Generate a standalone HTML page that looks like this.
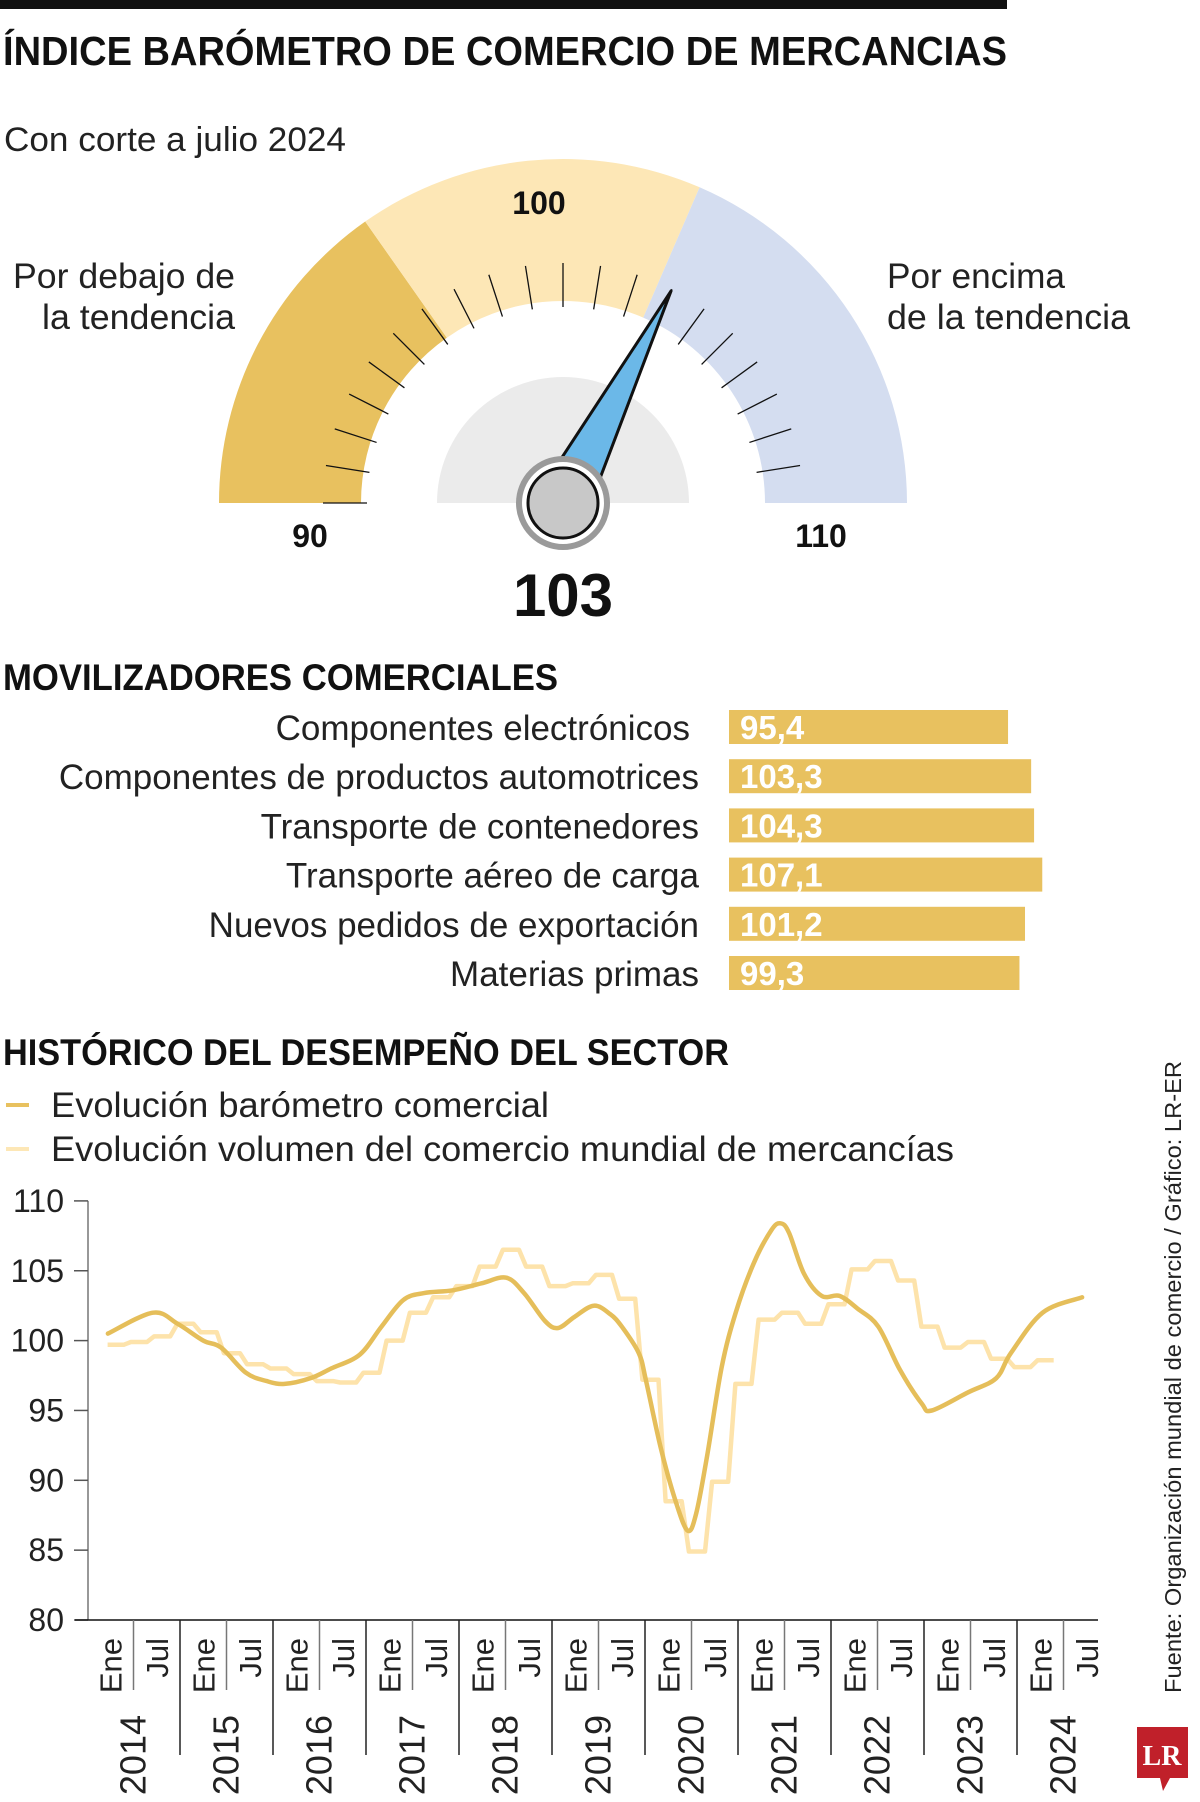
<!DOCTYPE html>
<html><head><meta charset="utf-8"><style>
body{margin:0;background:#fff}
svg{display:block}
.b{font-family:"Liberation Sans",sans-serif;font-weight:bold;fill:#111}
.l{font-family:"Liberation Sans",sans-serif;fill:#222}
</style></head><body>
<svg id="s" width="1200" height="1802" viewBox="0 0 1200 1802" xmlns="http://www.w3.org/2000/svg">
<rect x="0" y="0" width="1007" height="9" fill="#111"/>
<text class="b" x="3" y="65" font-size="41" textLength="1004" lengthAdjust="spacingAndGlyphs">ÍNDICE BARÓMETRO DE COMERCIO DE MERCANCIAS</text>
<text class="l" x="4" y="151" font-size="34" textLength="342" lengthAdjust="spacingAndGlyphs">Con corte a julio 2024</text>
<g id="gauge"></g>
<text class="l" x="235" y="288" font-size="35" text-anchor="end" textLength="222" lengthAdjust="spacingAndGlyphs">Por debajo de</text>
<text class="l" x="235" y="329" font-size="35" text-anchor="end" textLength="193" lengthAdjust="spacingAndGlyphs">la tendencia</text>
<text class="l" x="887" y="288" font-size="35" textLength="178" lengthAdjust="spacingAndGlyphs">Por encima</text>
<text class="l" x="887" y="329" font-size="35" textLength="243" lengthAdjust="spacingAndGlyphs">de la tendencia</text>
<text class="b" x="3" y="690" font-size="37" textLength="555" lengthAdjust="spacingAndGlyphs">MOVILIZADORES COMERCIALES</text>
<g id="bars"></g>
<text class="b" x="3" y="1065" font-size="37" textLength="726" lengthAdjust="spacingAndGlyphs">HISTÓRICO DEL DESEMPEÑO DEL SECTOR</text>
<rect x="6" y="1103" width="23" height="4" fill="#E8C15F"/>
<text class="l" x="51" y="1117" font-size="35" textLength="498" lengthAdjust="spacingAndGlyphs">Evolución barómetro comercial</text>
<rect x="6" y="1147" width="23" height="4" fill="#FDE7B6"/>
<text class="l" x="51" y="1161" font-size="35" textLength="903" lengthAdjust="spacingAndGlyphs">Evolución volumen del comercio mundial de mercancías</text>
<g id="chart"></g>
<text class="l" font-size="23" transform="translate(1181,1693) rotate(-90)" textLength="632" lengthAdjust="spacingAndGlyphs">Fuente: Organización mundial de comercio / Gráfico: LR-ER</text>
<g>
<path d="M1137 1727 H1188 V1778 H1170 L1163 1791 L1160 1778 H1137 Z" fill="#C0202A"/>
<text x="1162" y="1765" font-family="Liberation Serif,serif" font-weight="bold" font-size="28" fill="#fff" text-anchor="middle">LR</text>
</g>
</svg>
<script>
var NS='http://www.w3.org/2000/svg';
function mk(p,t,a){var e=document.createElementNS(NS,t);for(var k in a)e.setAttribute(k,a[k]);p.appendChild(e);return e;}

// ---- gauge data
var gaugeMin=90, gaugeMax=110;
var gaugeValue=103;
var zoneBreaks=[90,96.1,102.6,110];
var zoneNames=['below','neutral','above'];
var gaugeLabels=['90','100','110'];

// ---- bar data
var driverNames=['Componentes electrónicos','Componentes de productos automotrices','Transporte de contenedores','Transporte aéreo de carga','Nuevos pedidos de exportación','Materias primas'];
var driverValues=[95.4,103.3,104.3,107.1,101.2,99.3];
var driverText=['95,4','103,3','104,3','107,1','101,2','99,3'];

// ---- line chart data
var yTicks=[80,85,90,95,100,105,110];
var years=['2014','2015','2016','2017','2018','2019','2020','2021','2022','2023','2024'];
var halfLabels=['Ene','Jul'];
var baroMonths=[2.7,8.5,11.7,15,17.3,20.5,23.2,25.5,28.8,31.5,35.2,38,40.8,43.5,47.2,50.9,54.1,56.4,59.1,60.8,62.9,65.4,67.5,69,71.2,72.1,74,75.9,77.5,78.6,80,81.9,83.7,86,88.3,89.5,90.6,92.5,94.8,97.1,99.4,102.1,104.9,107.7,109,113.7,117.3,119.2,123.3,128.4];
var baroValues=[100.5,102.0,101.2,100.0,99.5,97.7,97.1,96.9,97.3,98.0,99.0,101.0,102.9,103.4,103.6,104.1,104.5,103.4,101.4,100.9,101.7,102.5,101.9,101.0,99.1,97.2,92.4,88.6,86.4,87.6,91.7,98.1,102.0,105.5,107.9,108.4,107.7,104.8,103.2,103.2,102.3,101.0,97.9,95.5,95.0,96.3,97.3,99.1,102.0,103.1];
var volQuarterValues=[99.7,99.9,100.3,101.2,100.6,99.1,98.3,98.0,97.6,97.1,97.0,97.7,100.0,102.0,103.1,103.9,105.3,106.5,105.3,103.9,104.1,104.7,103.0,97.2,88.5,84.9,89.9,96.9,101.5,102.0,101.2,102.6,105.1,105.7,104.3,101.0,99.5,99.9,98.7,98.1,98.6];

// ===== gauge
(function(){
  var g=document.getElementById('gauge');
  var cx=563, cy=503, R=344, r=202;
  function ang(v){return Math.PI*(1-(v-gaugeMin)/(gaugeMax-gaugeMin));}
  function pt(a,rad){return [cx+rad*Math.cos(a), cy-rad*Math.sin(a)];}
  var cols=['#E8C15F','#FDE7B6','#D4DDF0'];
  for(var i=0;i<3;i++){
    var a0=ang(zoneBreaks[i]), a1=ang(zoneBreaks[i+1]);
    var p0=pt(a0,R),p1=pt(a1,R),q1=pt(a1,r),q0=pt(a0,r);
    var e=mk(g,'path',{d:'M'+p0+' A'+R+' '+R+' 0 0 1 '+p1+' L'+q1+' A'+r+' '+r+' 0 0 0 '+q0+' Z',fill:cols[i]});
    
    
  }
  for(var v=gaugeMin;v<=gaugeMax-0.5;v+=1){
    var a=ang(v);var s=pt(a,196),t=pt(a,240);
    var tk=mk(g,'line',{x1:s[0],y1:s[1],x2:t[0],y2:t[1],stroke:'#111','stroke-width':1.3});
    
    
  }
  var disc=mk(g,'path',{d:'M'+(cx-126)+' '+cy+' A126 126 0 0 1 '+(cx+126)+' '+cy+' Z',fill:'#EBEBEB'});
  
  
  var a=ang(gaugeValue), tip=pt(a,238), b1=pt(a+Math.PI/2,26), b2=pt(a-Math.PI/2,26);
  var nd=mk(g,'polygon',{points:tip+' '+b1+' '+b2,fill:'#6BB8E8',stroke:'#111','stroke-width':3,'stroke-linejoin':'round'});
  
  
  var h1=mk(g,'circle',{cx:cx,cy:cy,r:44,fill:'#fff',stroke:'#9A9A9A','stroke-width':6});
  
  
  var h2=mk(g,'circle',{cx:cx,cy:cy,r:35,fill:'#C8C8C8',stroke:'#111','stroke-width':3});
  
  
  var lp=[[310,547],[539,214],[821,547]];
  for(var i=0;i<3;i++){
    var t=mk(g,'text',{x:lp[i][0],y:lp[i][1],'class':'b','font-size':32,'text-anchor':'middle'});
    t.textContent=gaugeLabels[i];
    
    
  }
  var vt=mk(g,'text',{x:cx,y:616,'class':'b','font-size':60,'text-anchor':'middle'});
  vt.textContent=String(gaugeValue);
  
  
})();

// ===== bars
(function(){
  var g=document.getElementById('bars');
  var x0=729, k=2.925, top=710, step=49.2, h=34;
  for(var i=0;i<driverNames.length;i++){
    var y=top+i*step;
    var r=mk(g,'rect',{x:x0,y:y,width:driverValues[i]*k,height:h,fill:'#E8C15F'});
    
    
    var t=mk(g,'text',{x:740,y:y+29,'class':'b','font-size':33,fill:'#fff'});
    t.style.fill='#fff';
    t.textContent=driverText[i];
    
    
    var l=mk(g,'text',{x:i==0?690:699,y:y+30,'class':'l','font-size':35,'text-anchor':'end'});
    l.textContent=driverNames[i];
    
    
  }
})();

// ===== line chart
(function(){
  var g=document.getElementById('chart');
  function X(m){return 87+7.75*m;}
  function Y(v){return 1620-(v-80)*13.97;}
  var ax=mk(g,'line',{x1:88,y1:Y(110),x2:88,y2:1620,stroke:'#777','stroke-width':1.5});
  
  
  for(var i=0;i<yTicks.length;i++){
    var y=Y(yTicks[i]);
    var t=mk(g,'line',{x1:74,y1:y,x2:88,y2:y,stroke:'#555','stroke-width':1.5});
    
    
    var lb=mk(g,'text',{x:64,y:y+11,'class':'l','font-size':32,'text-anchor':'end'});
    lb.textContent=yTicks[i];
    
    
  }
  var bl=mk(g,'line',{x1:75,y1:1620,x2:1098,y2:1620,stroke:'#111','stroke-width':1.5});
  
  
  for(var yi=0;yi<years.length;yi++){
    for(var h=0;h<2;h++){
      var m=yi*12+h*6;
      if(m>0){
        var sl=mk(g,'line',{x1:X(m),y1:1620,x2:X(m),y2:h==0?1755:1690,stroke:h==0?'#222':'#777','stroke-width':1.5});
        
        
      }
      var cxm=X(m+3);
      var ml=mk(g,'text',{'class':'l','font-size':31,'text-anchor':'end',transform:'translate('+(cxm+11)+',1638) rotate(-90)'});
      ml.textContent=halfLabels[h];
      
      
    }
    var yl=mk(g,'text',{'class':'l','font-size':36,'text-anchor':'end',transform:'translate('+(X(yi*12+6)+12)+',1715) rotate(-90)'});
    yl.textContent=years[yi];
    
    
  }
  var d='';
  for(var i=0;i<volQuarterValues.length;i++){
    var c=3.7+3*i, yy=Y(volQuarterValues[i]);
    d+=(i==0?'M':'L')+X(c-1.04).toFixed(1)+' '+yy.toFixed(1)+'L'+X(c+1.04).toFixed(1)+' '+yy.toFixed(1);
  }
  var vl=mk(g,'path',{d:d,fill:'none',stroke:'#FDE3AB','stroke-width':4.5,'stroke-linejoin':'round'});
  
  
  var P=baroMonths.map(function(m,i){return [X(m),Y(baroValues[i])];});
  var s='M'+P[0][0].toFixed(1)+' '+P[0][1].toFixed(1);
  for(var i=0;i<P.length-1;i++){
    var p0=P[i>0?i-1:i],p1=P[i],p2=P[i+1],p3=P[i+2<P.length?i+2:i+1];
    var c1=[p1[0]+(p2[0]-p0[0])/6,p1[1]+(p2[1]-p0[1])/6];
    var c2=[p2[0]-(p3[0]-p1[0])/6,p2[1]-(p3[1]-p1[1])/6];
    s+='C'+c1[0].toFixed(1)+' '+c1[1].toFixed(1)+' '+c2[0].toFixed(1)+' '+c2[1].toFixed(1)+' '+p2[0].toFixed(1)+' '+p2[1].toFixed(1);
  }
  var bln=mk(g,'path',{d:s,fill:'none',stroke:'#E5BE5A','stroke-width':4.5,'stroke-linecap':'round','stroke-linejoin':'round'});
  
  
})();
</script>
</body></html>
